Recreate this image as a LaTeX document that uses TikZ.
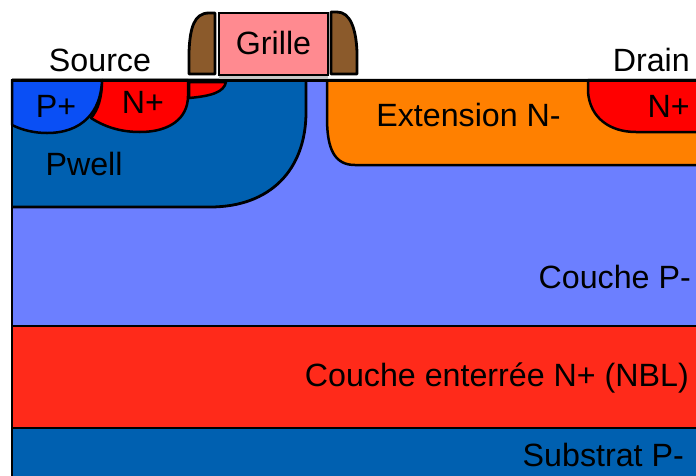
\documentclass[tikz,border=0pt]{standalone}
\usepackage{fontspec}
\setmainfont{Liberation Sans}
\definecolor{pminus}{HTML}{6C7FFF}
\definecolor{nbl}{HTML}{FF2A1A}
\definecolor{subs}{HTML}{0060B0}
\definecolor{pplus}{HTML}{0A4FF5}
\definecolor{nplus}{HTML}{FF0000}
\definecolor{ext}{HTML}{FF8000}
\definecolor{gatec}{HTML}{FF8A90}
\definecolor{spacer}{HTML}{8B5A2B}
\definecolor{oxide}{HTML}{C8C8C8}
\tikzset{
  region/.style={draw=black,line width=2.8pt,line join=round},
  thinregion/.style={draw=black,line width=2.5pt,line join=round},
  lab/.style={font=\fontsize{32.2}{32}\selectfont,inner sep=0pt,text=black},
}
\begin{document}
\begin{tikzpicture}[x=1pt,y=-1pt]
\useasboundingbox (0,0) rectangle (696,475);
\fill[white] (0,0) rectangle (696,475);
\begin{scope}
\clip (0,0) rectangle (696,475);
% layers
\fill[pminus] (12,80) rectangle (700,326);
\fill[nbl] (12,326) rectangle (700,428);
\fill[subs] (12,428) rectangle (700,480);
% Pwell
\filldraw[fill=subs,region] (12,80) -- (306,80) -- (306,112) .. controls (306,170) and (270,207) .. (210,207) -- (12,207);
% P+ / N+
\filldraw[fill=nplus,thinregion] (102,80) .. controls (102,98) and (98,110) .. (91,118) .. controls (108,129) and (125,132) .. (140,132) .. controls (170,132) and (188,118) .. (188,96) -- (188,80) -- cycle;
\filldraw[fill=pplus,thinregion] (12,80) -- (102,80) .. controls (101,112) and (82,133) .. (47,133) .. controls (34,133) and (22,130) .. (12,125) -- cycle;
\filldraw[fill=nplus,thinregion] (189,82) -- (226,82) .. controls (224,92) and (212,96) .. (189,98) -- cycle;
% Extension
\filldraw[fill=ext,thinregion] (327,80) -- (327,118) .. controls (327,150) and (335,165) .. (355,165) -- (700,165) -- (700,80) -- cycle;
% drain N+
\filldraw[fill=nplus,thinregion] (588,80) -- (588,92) .. controls (590,118) and (610,132) .. (636,132) -- (700,132) -- (700,80) -- cycle;
% frame lines
\draw[black,line width=3pt] (10.7,80) -- (700,80);
\draw[black,line width=2.6pt] (12,79) -- (12,480);
\draw[black,line width=2.6pt] (12,326) -- (700,326);
\draw[black,line width=2.6pt] (12,428) -- (700,428);
% oxide
\fill[oxide] (219,75) rectangle (328,78.5);
% gate
\filldraw[fill=gatec,draw=black,line width=2.6pt] (219,13) rectangle (328,75);
% spacers
\filldraw[fill=spacer,region] (215,13) -- (215,74) -- (189,74) -- (189,52) .. controls (190,28) and (194,13) .. (209,13) -- cycle;
\filldraw[fill=spacer,region] (331,12) -- (331,74) -- (357,74) -- (357,52) .. controls (356,28) and (350,12) .. (337,12) -- cycle;
\end{scope}
% labels
\node[lab] (source) at (100,60) {Source};
\node[lab] (grille) at (273.5,43) {Grille};
\node[lab,anchor=east] (drain) at (690,60) {Drain};
\node[lab] (pp) at (56,106) {P+};
\node[lab] (np) at (143,102) {N+};
\node[lab] (pw) at (84,164) {Pwell};
\node[lab] (extn) at (468.5,115) {Extension N-};
\node[lab,anchor=east] (npd) at (690,106) {N+};
\node[lab,anchor=east] (cp) at (691,277) {Couche P-};
\node[lab,anchor=east] (cn) at (689,378) {Couche enterrée N+ (NBL)};
\node[lab,anchor=east] (sp) at (684,455) {Substrat P-};
\end{tikzpicture}
\end{document}
